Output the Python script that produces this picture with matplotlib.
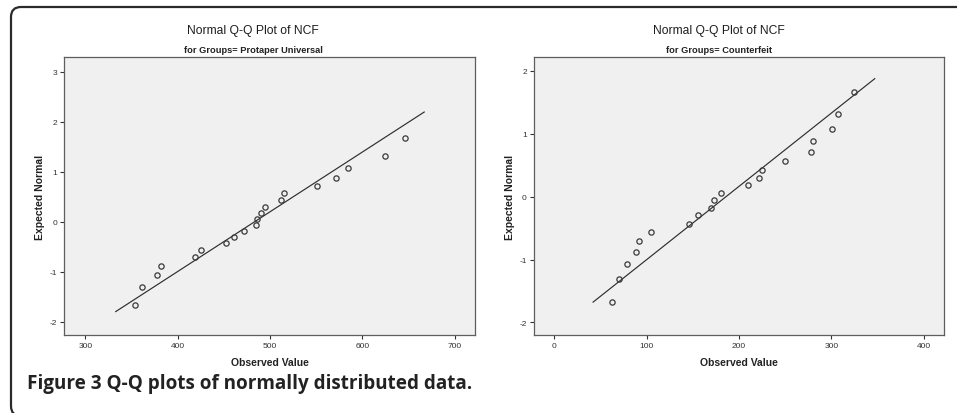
import matplotlib
matplotlib.use("Agg")
import matplotlib.pyplot as plt
import numpy as np
from matplotlib.patches import FancyBboxPatch

# expected normal scores (same for both groups, n = 20)
expected_normal = [-1.67, -1.31, -1.07, -0.88, -0.71, -0.57, -0.43, -0.30, -0.18, -0.06,
                   0.06, 0.18, 0.30, 0.43, 0.57, 0.71, 0.88, 1.07, 1.31, 1.67]

protaper_ncf = [354, 361, 378, 382, 419, 425, 452, 461, 472, 485,
                486, 490, 495, 512, 515, 551, 572, 585, 625, 646]
counterfeit_ncf = [62, 70, 79, 89, 92, 105, 146, 156, 170, 173,
                   180, 210, 222, 225, 250, 278, 280, 301, 307, 325]

# extent of the reference lines along x
protaper_line_x = [333, 667]
counterfeit_line_x = [42, 347]

protaper_xticks = [300, 400, 500, 600, 700]
protaper_yticks = [-2, -1, 0, 1, 2, 3]
counterfeit_xticks = [0, 100, 200, 300, 400]
counterfeit_yticks = [-2, -1, 0, 1, 2]

plt.rcParams['font.family'] = ['Liberation Sans', 'DejaVu Sans']
plt.rcParams['axes.unicode_minus'] = False

W, H = 957, 414
fig = plt.figure(figsize=(W / 100, H / 100), dpi=100)
fig.patch.set_facecolor('white')


def qq_panel(rect, values, line_x, xticks, yticks, xlim, ylim, subtitle, title_x):
    ax = fig.add_axes(rect)
    ax.set_facecolor('#f0f0f0')
    vals = np.array(values, dtype=float)
    mu, sd = vals.mean(), vals.std(ddof=1)
    lx = np.array(line_x, dtype=float)
    ax.plot(lx, (lx - mu) / sd, color='#2e2e2e', lw=0.85, zorder=2)
    ax.plot(vals, expected_normal, 'o', mfc='none', mec='#3a3a3a', ms=3.8, mew=0.9, zorder=3)
    ax.set_xlim(*xlim)
    ax.set_ylim(*ylim)
    ax.set_xticks(xticks)
    ax.set_yticks(yticks)
    ax.tick_params(length=3, width=0.8, color='#333333', labelsize=6,
                   labelcolor='#333333', pad=2)
    for s in ax.spines.values():
        s.set_color('#5e5e5e')
        s.set_linewidth(0.9)
    ax.set_xlabel('Observed Value', fontsize=7.5, fontweight='bold', color='#222222')
    ax.set_ylabel('Expected Normal', fontsize=7.5, fontweight='bold', color='#222222')
    ax.xaxis.set_label_coords(0.5, -22 / 278)
    ax.xaxis.label.set_va('top')
    ax.yaxis.set_label_coords(-19 / 411, 0.5)
    fig.text(title_x / W, 1 - 30.7 / H, 'Normal Q-Q Plot of NCF', ha='center', va='center',
             fontsize=8.7, color='#1e1e1e')
    fig.text(title_x / W, 1 - 50.7 / H, subtitle, ha='center', va='center',
             fontsize=6.7, fontweight='bold', color='#222222')
    return ax


bottom = (H - 336) / H
height = 278 / H
qq_panel([64 / W, bottom, 411 / W, height], protaper_ncf, protaper_line_x,
         protaper_xticks, protaper_yticks, (277, 722), (-2.26, 3.29),
         'for Groups= Protaper Universal', 253)
qq_panel([533.7 / W, bottom, 410.6 / W, height], counterfeit_ncf, counterfeit_line_x,
         counterfeit_xticks, counterfeit_yticks, (-22.3, 422.3), (-2.2, 2.22),
         'for Groups= Counterfeit', 719)

# rounded frame around the figure (runs off the right and bottom edges)
frame = FancyBboxPatch((0.11, -0.03), 9.9, 4.09,
                       boxstyle='round,pad=0,rounding_size=0.1',
                       transform=fig.dpi_scale_trans, fill=False,
                       ec='#2b2b2b', lw=1.6, clip_on=False)
fig.patches.append(frame)

fig.text(27 / W, 1 - 389.5 / H, 'Figure 3 Q-Q plots of normally distributed data.',
         ha='left', va='baseline', fontsize=13.6, fontweight='bold',
         family=['Open Sans', 'DejaVu Sans'], color='#222222')

fig.savefig('out.png', dpi=100)
